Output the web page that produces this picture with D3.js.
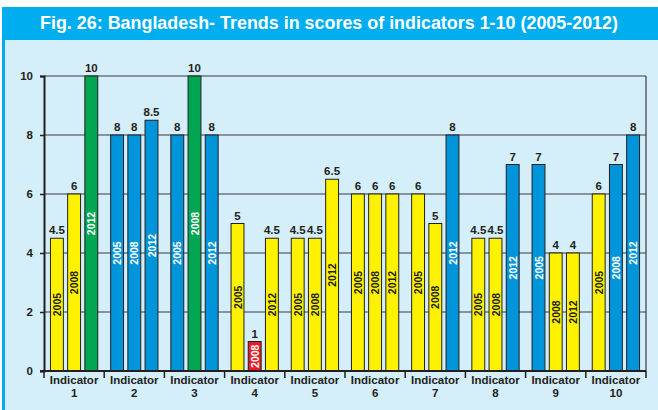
<!DOCTYPE html>
<html>
<head>
<meta charset="utf-8">
<script src="https://cdn.jsdelivr.net/npm/d3@7"></script>
<style>
  body { margin: 0; background: #fff; }
  svg { display: block; font-family: "Liberation Sans", Arial, sans-serif; }
</style>
</head>
<body>
<svg></svg>
<script>
// data
let indicators = ['1', '2', '3', '4', '5', '6', '7', '8', '9', '10'];
let years = ['2005', '2008', '2012'];
let scores2005 = [4.5, 8, 8, 5, 4.5, 6, 6, 4.5, 7, 6];
let scores2008 = [6, 8, 10, 1, 4.5, 6, 5, 4.5, 4, 7];
let scores2012 = [10, 8.5, 8, 4.5, 6.5, 6, 8, 7, 4, 8];
let yTicks = [0, 2, 4, 6, 8, 10];
let title = 'Fig. 26: Bangladesh- Trends in scores of indicators 1-10 (2005-2012)';

let rows = [];
indicators.forEach((ind, i) => {
  [scores2005, scores2008, scores2012].forEach((s, j) => {
    rows.push({ind: ind, year: years[j], value: s[i]});
  });
});

// configuration
let config = {'svg': {}, 'margin': {}, 'plot': {}};
config.svg.width = 658;
config.svg.height = 410;
config.margin.top = 76;
config.margin.left = 44;
config.margin.right = 12;
config.margin.bottom = 39;
config.plot.width = config.svg.width - config.margin.left - config.margin.right;
config.plot.height = config.svg.height - config.margin.top - config.margin.bottom;

let svg = d3.select('svg')
  .attr('width', config.svg.width)
  .attr('height', config.svg.height);

// frame + title band
svg.append('rect').attr('x', 2).attr('y', 7).attr('width', 656).attr('height', 403)
  .attr('fill', '#d4eefa');
svg.append('rect').attr('x', 2).attr('y', 7).attr('width', 3).attr('height', 403)
  .attr('fill', '#00aeef');
svg.append('rect').attr('x', 2).attr('y', 7).attr('width', 656).attr('height', 33)
  .attr('fill', '#00aeef');
svg.append('text')
  .attr('x', 40).attr('y', 29)
  .attr('textLength', 578).attr('lengthAdjust', 'spacingAndGlyphs')
  .attr('fill', '#fff').attr('font-size', 18).attr('font-weight', 'bold')
  .text(title);

let plot = svg.append('g')
  .attr('transform', `translate(${config.margin.left},${config.margin.top})`);

// scales
let x0 = d3.scaleBand().domain(indicators).range([0, config.plot.width]).padding(0);
let x1 = d3.scaleBand().domain(years).range([0, x0.bandwidth()])
  .paddingInner(0.25).paddingOuter(0.375);
let y = d3.scaleLinear().domain([0, 10]).range([config.plot.height, 0]);
let color = d3.scaleThreshold().domain([2, 7, 10])
  .range(['#ed1c24', '#fff200', '#0095da', '#00a651']);
let textColor = d3.scaleThreshold().domain([2, 7])
  .range(['#fff', '#231f20', '#fff']);

// grid lines
plot.append('g').selectAll('line')
  .data(yTicks.filter(d => d > 0))
  .join('line')
  .attr('x1', 0).attr('x2', config.plot.width)
  .attr('y1', d => y(d)).attr('y2', d => y(d))
  .attr('stroke', '#3a3a3a').attr('stroke-width', 1.2);
plot.append('line')
  .attr('x1', config.plot.width).attr('x2', config.plot.width)
  .attr('y1', 0).attr('y2', config.plot.height)
  .attr('stroke', '#3a3a3a').attr('stroke-width', 1.2);

// bars
let groups = plot.append('g').selectAll('g')
  .data(rows)
  .join('g')
  .attr('transform', d => `translate(${x0(d.ind) + x1(d.year)},0)`);

groups.append('rect')
  .attr('x', 0)
  .attr('y', d => y(d.value))
  .attr('width', x1.bandwidth())
  .attr('height', d => y(0) - y(d.value))
  .attr('fill', d => color(d.value))
  .attr('stroke', '#231f20').attr('stroke-width', 1);

groups.append('text')
  .attr('x', x1.bandwidth() / 2)
  .attr('y', d => y(d.value) - 4)
  .attr('text-anchor', 'middle')
  .attr('font-size', 11.5).attr('font-weight', 'bold').attr('fill', '#231f20')
  .text(d => d.value);

groups.append('text')
  .attr('transform', d => `translate(${x1.bandwidth() / 2 + 4},${(y(d.value) + y(0)) / 2}) rotate(-90)`)
  .attr('text-anchor', 'middle')
  .attr('font-size', 10.5).attr('font-weight', 'bold')
  .attr('fill', d => textColor(d.value))
  .text(d => d.year);

// y axis
let yAxis = plot.append('g').call(d3.axisLeft(y).tickValues(yTicks).tickSize(4).tickPadding(7));
yAxis.select('.domain').attr('stroke', '#231f20').attr('stroke-width', 2);
yAxis.selectAll('.tick line').attr('stroke', '#231f20').attr('stroke-width', 1.5);
yAxis.selectAll('text').attr('font-size', 11.5).attr('font-weight', 'bold')
  .attr('fill', '#231f20').attr('font-family', 'Liberation Sans, Arial, sans-serif');

// x axis
let xAxis = plot.append('g').attr('transform', `translate(0,${config.plot.height})`);
xAxis.append('line')
  .attr('x1', -4).attr('x2', config.plot.width)
  .attr('stroke', '#231f20').attr('stroke-width', 2);
xAxis.selectAll('.sep')
  .data(indicators.concat(['end']))
  .join('line')
  .attr('class', 'sep')
  .attr('x1', (d, i) => i * x0.step()).attr('x2', (d, i) => i * x0.step())
  .attr('y1', 0).attr('y2', 7)
  .attr('stroke', '#231f20').attr('stroke-width', 1.5);
let labels = xAxis.selectAll('.lab')
  .data(indicators)
  .join('text')
  .attr('class', 'lab')
  .attr('x', d => x0(d) + x0.bandwidth() / 2)
  .attr('text-anchor', 'middle')
  .attr('font-size', 11.5).attr('font-weight', 'bold').attr('fill', '#231f20');
labels.append('tspan').attr('x', d => x0(d) + x0.bandwidth() / 2).attr('y', 13).text('Indicator');
labels.append('tspan').attr('x', d => x0(d) + x0.bandwidth() / 2).attr('y', 26).text(d => d);
</script>
</body>
</html>
